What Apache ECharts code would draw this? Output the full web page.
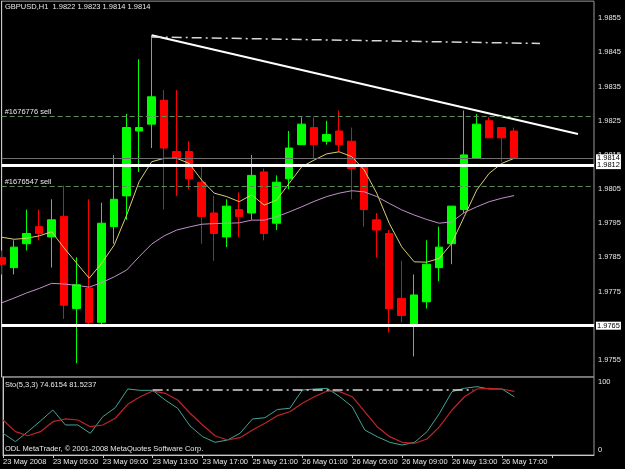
<!DOCTYPE html>
<html><head><meta charset="utf-8">
<script src="https://cdn.jsdelivr.net/npm/echarts@6/dist/echarts.min.js"></script>
<style>html,body{margin:0;padding:0;background:#000}#c{width:625px;height:469px}</style>
</head><body><div id="c"></div>
<script>
// ---- data ----
const opens  = [1.9785,1.9782,1.9789,1.9794,1.9791,1.9797,1.9770,1.9776,1.9766,1.9794,1.9803,1.9822,1.9824,1.9831,1.9816,1.9816,1.9807,1.9798,1.9791,1.9799,1.9798,1.9810,1.9795,1.9808,1.9818,1.9823,1.9819,1.9822,1.9819,1.9812,1.9796,1.9792,1.9773,1.9765,1.9772,1.9782,1.9789,1.9799,1.9814,1.9825,1.9823,1.9822];
const closes = [1.9783,1.9788,1.9792,1.9792,1.9796,1.9771,1.9777,1.9766,1.9795,1.9802,1.9823,1.9823,1.9832,1.9817,1.9814,1.9808,1.9797,1.9792,1.9800,1.9797,1.9809,1.9792,1.9807,1.9817,1.9824,1.9818,1.9821,1.9818,1.9811,1.9799,1.9793,1.9770,1.9768,1.9774,1.9783,1.9788,1.9800,1.9815,1.9824,1.9820,1.9820,1.9814];
const highs  = [1.9787,1.9790,1.9799,1.9799,1.9802,1.9806,1.9785,1.9802,1.9801,1.9815,1.9827,1.9843,1.9850,1.9834,1.9834,1.9819,1.9812,1.9803,1.9802,1.9804,1.9815,1.9811,1.9809,1.9822,1.9826,1.9826,1.9825,1.9828,1.9823,1.9812,1.9798,1.9793,1.9784,1.9780,1.9790,1.9794,1.9800,1.9828,1.9827,1.9826,1.9823,1.9823];
const lows   = [1.9780,1.9780,1.9787,1.9790,1.9782,1.9767,1.9754,1.9765,1.9765,1.9789,1.9796,1.9810,1.9817,1.9799,1.9803,1.9805,1.9789,1.9784,1.9788,1.9791,1.9796,1.9790,1.9793,1.9805,1.9818,1.9814,1.9818,1.9816,1.9802,1.9794,1.9785,1.9763,1.9766,1.9756,1.9770,1.9778,1.9783,1.9798,1.9814,1.9820,1.9813,1.9814];
const maFast = [1.97909,1.97903,1.97906,1.97913,1.97925,1.97877,1.97833,1.97789,1.97833,1.97886,1.97974,1.98072,1.98130,1.98140,1.98140,1.98125,1.98076,1.98038,1.98028,1.98013,1.98033,1.98003,1.98018,1.98067,1.98115,1.98135,1.98153,1.98159,1.98145,1.98106,1.98038,1.97950,1.97881,1.97837,1.97836,1.97847,1.97891,1.97969,1.98047,1.98096,1.98125,1.98140];
const maSlow = [1.97717,1.97731,1.97746,1.97759,1.97774,1.97772,1.97768,1.97763,1.97776,1.97793,1.97813,1.97852,1.97889,1.97913,1.97930,1.97939,1.97947,1.97949,1.97950,1.97951,1.97959,1.97959,1.97969,1.97983,1.97998,1.98014,1.98028,1.98038,1.98045,1.98042,1.98028,1.98008,1.97989,1.97974,1.97961,1.97950,1.97954,1.97981,1.97998,1.98013,1.98023,1.98031];
const stochMain   = [27.8,17.1,30,43.6,57.7,38.5,38.5,27.8,49.1,60.6,84.6,82.9,82.9,70.5,59.9,37.2,23.5,16.3,19.2,27.8,46.2,47.8,58.3,59.9,83.3,84.6,85.5,74.7,61.9,32.1,23.5,16.3,12.8,16.3,29.9,53.5,81.2,85.5,87.6,84.6,84.6,74.6];
const stochSignal = [44.9,29.9,24.7,29.9,42.7,46.2,44.9,36.3,38.5,47.1,65,74.7,82.1,79.1,70.5,53.5,38.5,24.7,19.2,22.2,32.1,40.6,50.4,55.5,66.3,75,82.1,81.2,74.7,55.5,36.3,23.5,16.3,15,20.5,36.3,57.7,74.7,84.6,85.5,84.6,81.5];
const xTickLabels = {0:'23 May 2008',4:'23 May 05:00',8:'23 May 09:00',12:'23 May 13:00',16:'23 May 17:00',20:'25 May 21:00',24:'26 May 01:00',28:'26 May 05:00',32:'26 May 09:00',36:'26 May 13:00',40:'26 May 17:00'};
const yTickLabels = ['1.9755','1.9765','1.9775','1.9785','1.9795','1.9805','1.9815','1.9825','1.9835','1.9845','1.9855'];
const supportLines = [1.9812, 1.9765];
const bidPrice = 1.9814;
const orderLevels = [1.98262, 1.98057];
const orderNames = ['#1676776 sell', '#1676547 sell'];
const trendLine = [[12, 1.9850], [46.1, 1.98211]];
const dashLine = [[12, 1.98495], [43.06, 1.98476]];
const stochDashLine = [[12, 83.3], [37.7, 83.3]];
const headerText = 'GBPUSD,H1  1.9822 1.9823 1.9814 1.9814';
const stochText = 'Sto(5,3,3) 74.6154 81.5237';
const footerText = 'ODL MetaTrader, \u00a9 2001-2008 MetaQuotes Software Corp.';

// ---- chart ----
const F = 'Liberation Sans, Arial, sans-serif';
const FS = 7.5;
const XMAX = 47.384;
const chart = echarts.init(document.getElementById('c'), null, {renderer: 'canvas'});
const candleData = opens.map((o, i) => [i, o, closes[i], lows[i], highs[i]]);
const idx = a => a.map((v, i) => [i, v]);
const txt = {color: '#e8e8e8', fontSize: FS, fontFamily: F, fontWeight: 'normal'};
const boxLabel = s => ({show: true, position: 'end', formatter: s, color: '#000', backgroundColor: '#fff',
  padding: [0, 1, 0, 1], fontSize: FS, fontFamily: F, distance: 2});

const orderMarks = orderLevels.map((lv, k) => ({
  yAxis: lv,
  lineStyle: {color: '#5e8c5e', width: 1, type: [5, 3]},
  label: {show: true, position: 'insideStartTop', formatter: orderNames[k], color: '#e8e8e8', fontSize: FS, fontFamily: F, distance: [3, 1]}
}));
const bidMark = [{yAxis: bidPrice, lineStyle: {color: '#707070', width: 1, type: 'solid'}, label: boxLabel(bidPrice.toFixed(4))}];
const supportMarks = supportLines.map(lv => ({yAxis: lv, lineStyle: {color: '#ffffff', width: 3, type: 'solid'}, label: boxLabel(lv.toFixed(4))}));

const holder = (marks, z) => ({type: 'line', xAxisIndex: 0, yAxisIndex: 0, data: [], z: z, silent: true,
  markLine: {silent: true, symbol: 'none', animation: false, precision: 6, data: marks}});

chart.setOption({
  backgroundColor: '#000',
  animation: false,
  title: [
    {text: headerText, left: 5, top: 3, padding: 0, textStyle: txt},
    {text: stochText, left: 5, top: 381, padding: 0, textStyle: txt},
    {text: footerText, left: 5, top: 445, padding: 0, textStyle: txt}
  ],
  grid: [
    {left: 1.7, right: 31, top: 1.15, height: 375.8, show: true, borderColor: '#9a9a9a', borderWidth: 1},
    {left: 1.7, right: 31, top: 377, height: 78, show: true, borderColor: '#9a9a9a', borderWidth: 1}
  ],
  xAxis: [
    {type: 'value', gridIndex: 0, min: 0, max: XMAX, show: false},
    {type: 'value', gridIndex: 1, min: 0, max: XMAX, interval: 4,
     axisLine: {show: true, lineStyle: {color: '#c8c8c8'}},
     axisTick: {show: true, length: 3, lineStyle: {color: '#c8c8c8'}},
     splitLine: {show: false},
     axisLabel: {color: '#e8e8e8', fontSize: FS, fontFamily: F, margin: 3, align: 'left', showMaxLabel: false,
       formatter: v => xTickLabels[Math.round(v)] || ''}}
  ],
  yAxis: [
    {type: 'value', gridIndex: 0, position: 'right', min: 1.9750, max: 1.9860, interval: 0.0005,
     axisLine: {show: true, lineStyle: {color: '#c8c8c8'}},
     axisTick: {show: false}, splitLine: {show: false},
     axisLabel: {color: '#e8e8e8', fontSize: FS, fontFamily: F, margin: 4, showMinLabel: false, showMaxLabel: false,
       formatter: v => { const s = v.toFixed(4); return yTickLabels.includes(s) ? s : ''; }}},
    {type: 'value', gridIndex: 1, position: 'right', min: 0, max: 100, interval: 100,
     axisLine: {show: true, lineStyle: {color: '#c8c8c8'}},
     axisTick: {show: false}, splitLine: {show: false},
     axisLabel: {color: '#e8e8e8', fontSize: FS, fontFamily: F, margin: 4,
       formatter: v => v >= 100 ? '{t|100}' : '{b|0}',
       rich: {t: {padding: [10, 0, 0, 0], fontSize: FS, fontFamily: F, color: '#e8e8e8'},
              b: {padding: [0, 0, 10, 0], fontSize: FS, fontFamily: F, color: '#e8e8e8'}}}}
  ],
  series: [
    holder(orderMarks, 1),
    holder(bidMark, 1),
    {type: 'candlestick', xAxisIndex: 0, yAxisIndex: 0, data: candleData,
     dimensions: ['x', 'open', 'close', 'lowest', 'highest'],
     encode: {x: 'x', y: ['open', 'close', 'lowest', 'highest']},
     barWidth: 8, clip: true, z: 2,
     itemStyle: {color: '#00ff00', color0: '#ff0000', borderColor: '#00ff00', borderColor0: '#ff0000', borderWidth: 1}},
    {type: 'line', xAxisIndex: 0, yAxisIndex: 0, data: idx(maFast), showSymbol: false, z: 3,
     lineStyle: {color: '#d8d070', width: 1}},
    {type: 'line', xAxisIndex: 0, yAxisIndex: 0, data: idx(maSlow), showSymbol: false, z: 3,
     lineStyle: {color: '#c090c8', width: 1}},
    holder(supportMarks, 4),
    {type: 'line', xAxisIndex: 0, yAxisIndex: 0, data: trendLine, showSymbol: false, z: 4,
     lineStyle: {color: '#ffffff', width: 2}},
    {type: 'line', xAxisIndex: 0, yAxisIndex: 0, data: dashLine, showSymbol: false, z: 4,
     lineStyle: {color: '#d8d8d8', width: 1.5, type: [10, 4, 2, 4]}},
    {type: 'line', xAxisIndex: 1, yAxisIndex: 1, data: idx(stochMain), showSymbol: false, z: 3,
     lineStyle: {color: '#40a595', width: 1}},
    {type: 'line', xAxisIndex: 1, yAxisIndex: 1, data: idx(stochSignal), showSymbol: false, z: 3,
     lineStyle: {color: '#c02428', width: 1.2}},
    {type: 'line', xAxisIndex: 1, yAxisIndex: 1, data: stochDashLine, showSymbol: false, z: 4,
     lineStyle: {color: '#d8d8d8', width: 1.5, type: [10, 4, 2, 4]}}
  ]
});
</script></body></html>
